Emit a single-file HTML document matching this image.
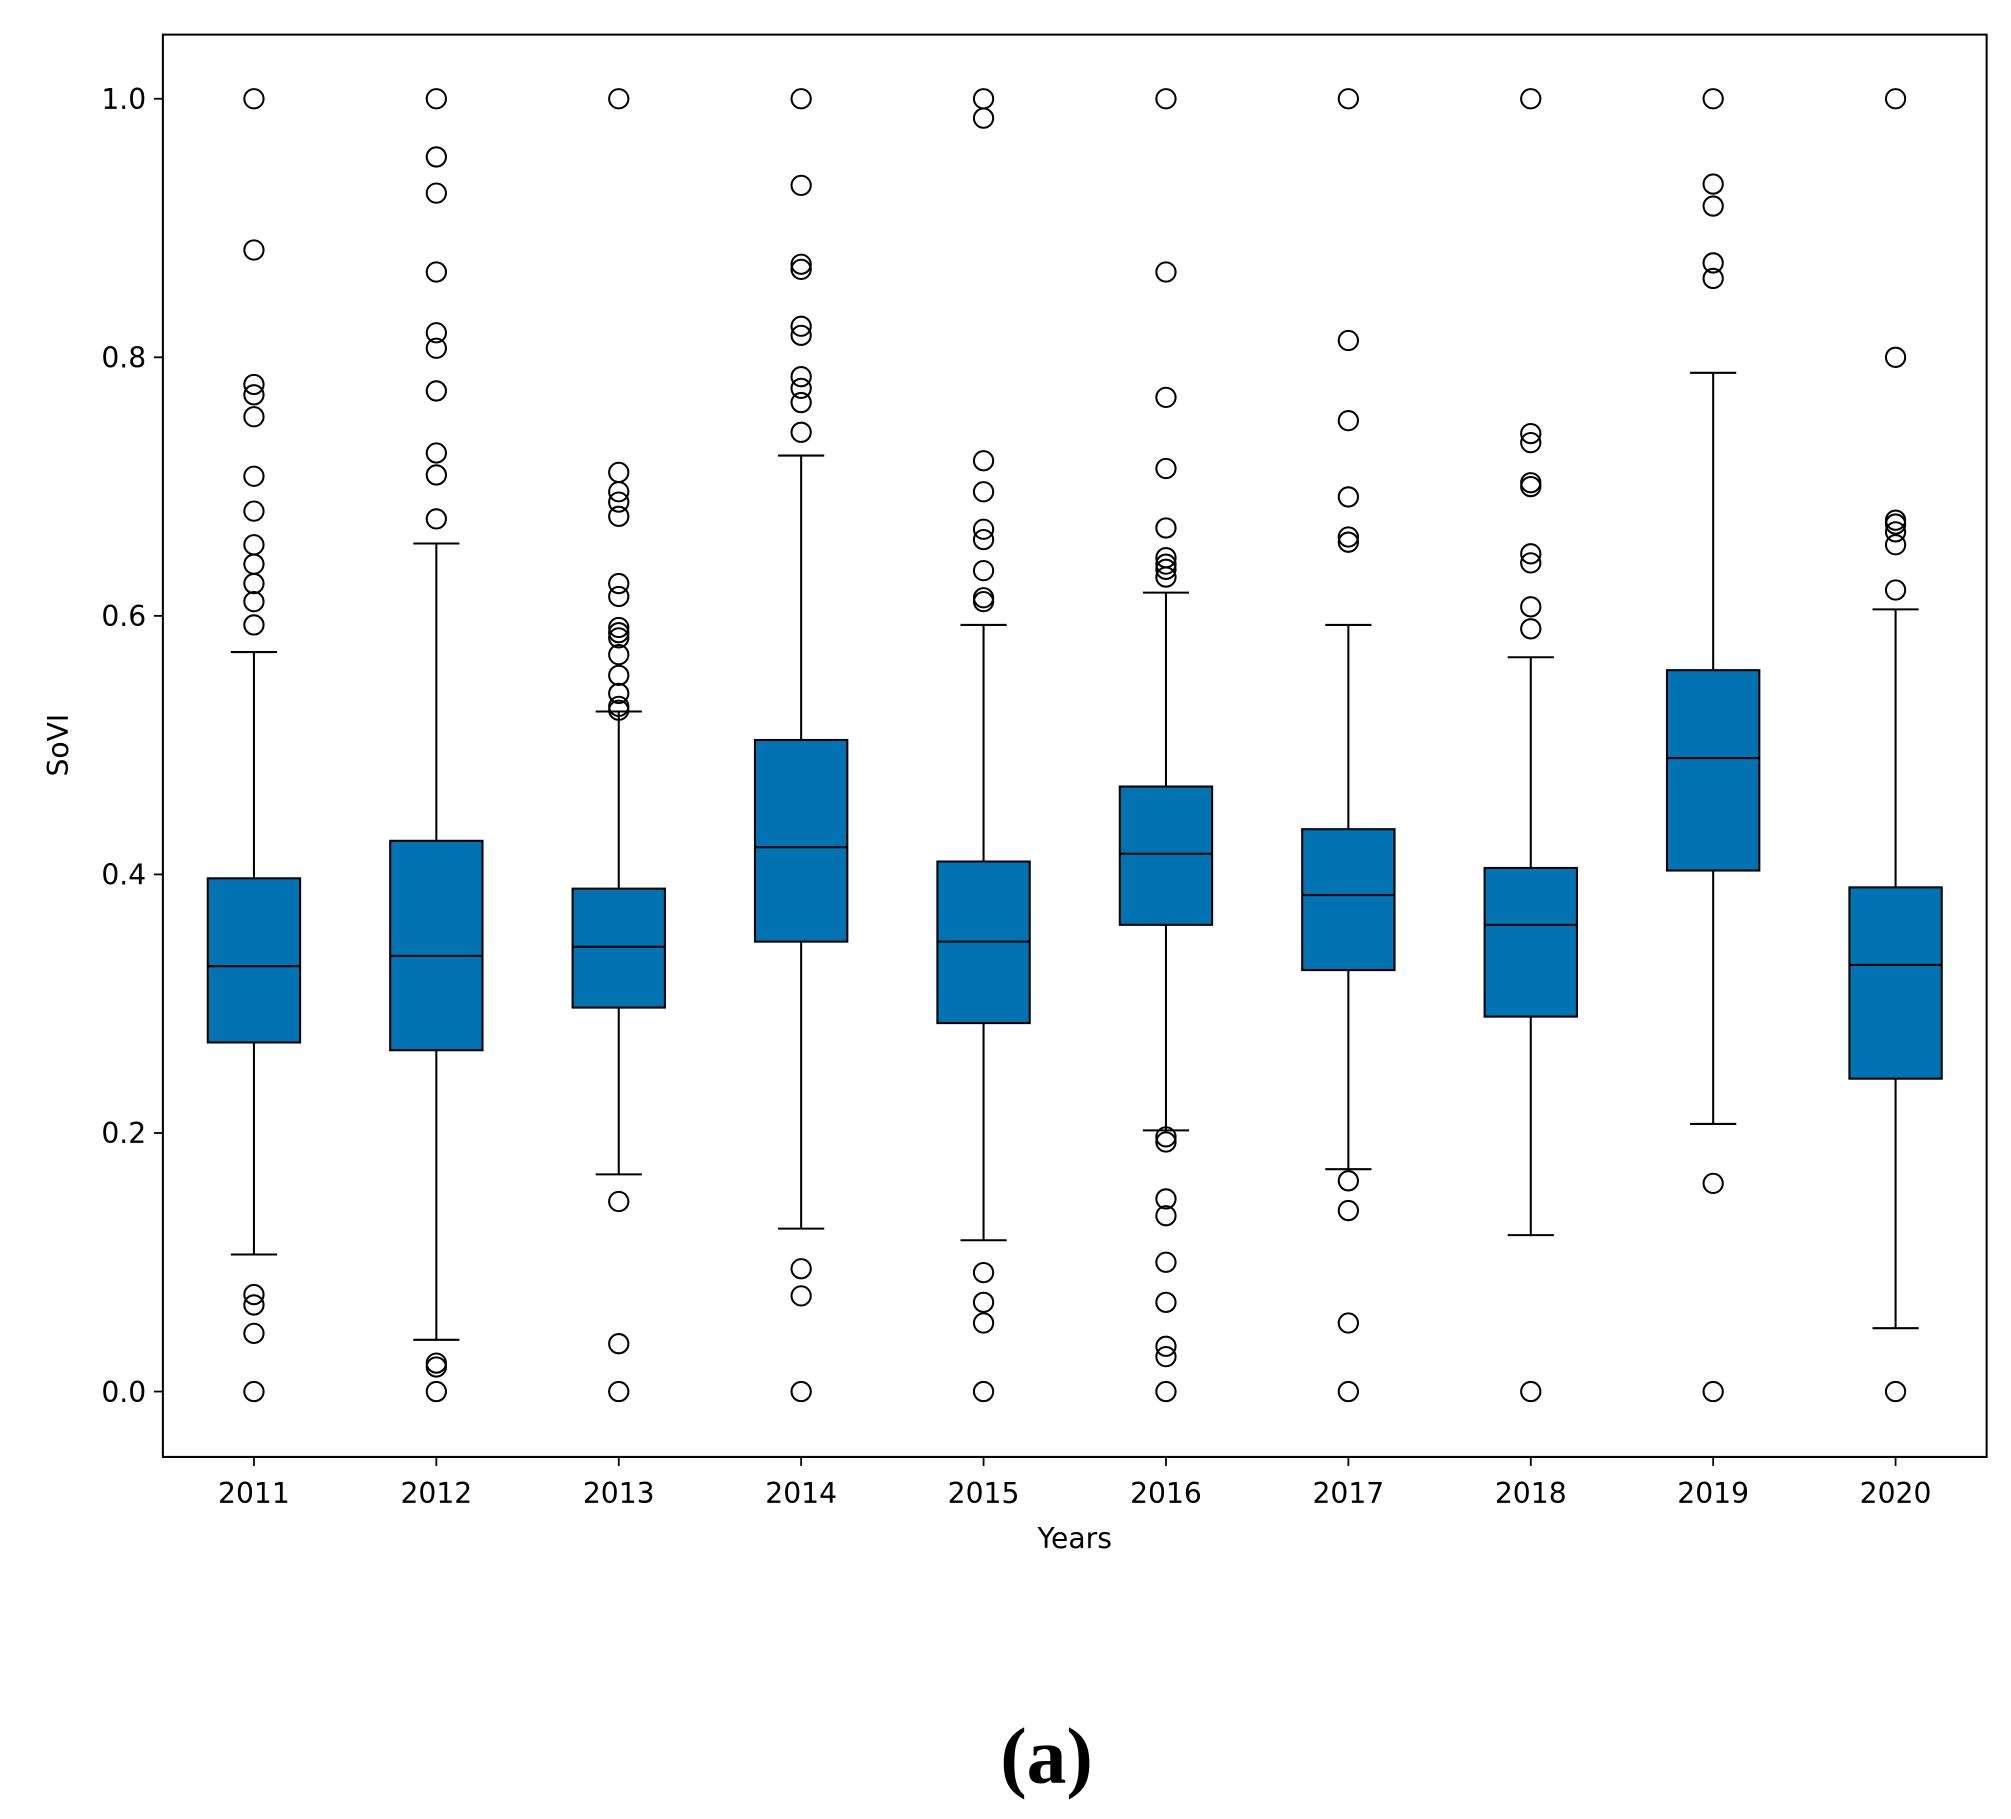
<!DOCTYPE html>
<html><head><meta charset="utf-8"><style>
html,body{margin:0;padding:0;background:#fff;}
svg{display:block;}
text{font-family:"DejaVu Sans","Liberation Sans",sans-serif;fill:#000;}
</style></head><body>
<svg id="chart" width="2011" height="1819" viewBox="0 0 1568 1418.3" preserveAspectRatio="none" xmlns="http://www.w3.org/2000/svg">
<rect x="0" y="0" width="1568" height="1418.3" fill="#fff"/>
<g id="marks"></g>
<rect x="127" y="27" width="1422" height="1109" fill="none" stroke="#000" stroke-width="1.6"/>
<g id="axes"></g>
<text x="838" y="1207" font-size="22" text-anchor="middle">Years</text>
<text x="0" y="0" font-size="22" text-anchor="middle" transform="translate(53,581) rotate(-90)">SoVI</text>
<text x="816" y="1390" font-size="62" font-weight="bold" text-anchor="middle" style="font-family:'Liberation Serif',serif">(a)</text>
</svg>
<script>
const years = ["2011","2012","2013","2014","2015","2016","2017","2018","2019","2020"];
const q1 = [0.270,0.264,0.297,0.348,0.285,0.361,0.326,0.290,0.403,0.242];
const q3 = [0.397,0.426,0.389,0.504,0.410,0.468,0.435,0.405,0.558,0.390];
const medians = [0.329,0.337,0.344,0.421,0.348,0.416,0.384,0.361,0.490,0.330];
const whiskerLow = [0.106,0.040,0.168,0.126,0.117,0.202,0.172,0.121,0.207,0.049];
const whiskerHigh = [0.572,0.656,0.526,0.724,0.593,0.618,0.593,0.568,0.788,0.605];
const outliers = [
 [1.0,0.883,0.779,0.771,0.754,0.708,0.681,0.655,0.640,0.625,0.611,0.593,0.075,0.067,0.045,0.0],
 [1.0,0.955,0.927,0.866,0.819,0.807,0.774,0.726,0.709,0.675,0.022,0.019,0.0],
 [1.0,0.711,0.696,0.688,0.677,0.625,0.615,0.591,0.587,0.583,0.570,0.554,0.540,0.530,0.527,0.147,0.037,0.0],
 [1.0,0.933,0.872,0.868,0.824,0.817,0.785,0.776,0.765,0.742,0.095,0.074,0.0],
 [1.0,0.985,0.720,0.696,0.667,0.659,0.635,0.614,0.611,0.092,0.069,0.053,0.0],
 [1.0,0.866,0.769,0.714,0.668,0.645,0.640,0.636,0.630,0.197,0.193,0.149,0.136,0.100,0.069,0.035,0.027,0.0],
 [1.0,0.813,0.751,0.692,0.661,0.657,0.163,0.140,0.053,0.0],
 [1.0,0.741,0.734,0.703,0.700,0.648,0.641,0.607,0.590,0.0],
 [1.0,0.934,0.917,0.873,0.861,0.161,0.0],
 [1.0,0.800,0.674,0.671,0.665,0.655,0.620,0.0]
];
const yTicks = [0.0,0.2,0.4,0.6,0.8,1.0];
const yTickLabels = ["0.0","0.2","0.4","0.6","0.8","1.0"];

const NS="http://www.w3.org/2000/svg";
function yScale(v){return 1085 - v*1008;}
function xScale(i){return 198 + i*(1478-198)/(years.length-1);}
function mk(tag,attrs,parent){const e=document.createElementNS(NS,tag);for(const k in attrs)e.setAttribute(k,attrs[k]);parent.appendChild(e);return e;}
const marks=document.getElementById('marks'), axes=document.getElementById('axes');
years.forEach((yr,i)=>{
  const cx=xScale(i), hw=36, cw=18;
  const g=mk('g',{},marks);
  
  
  const s={stroke:'#000','stroke-width':1.6,fill:'none'};
  const wl=mk('line',Object.assign({x1:cx,x2:cx,y1:yScale(q1[i]),y2:yScale(whiskerLow[i])},s),g);
  
  
  const wh=mk('line',Object.assign({x1:cx,x2:cx,y1:yScale(q3[i]),y2:yScale(whiskerHigh[i])},s),g);
  
  
  const c1=mk('line',Object.assign({x1:cx-cw,x2:cx+cw,y1:yScale(whiskerLow[i]),y2:yScale(whiskerLow[i])},s),g);
  
  
  const c2=mk('line',Object.assign({x1:cx-cw,x2:cx+cw,y1:yScale(whiskerHigh[i]),y2:yScale(whiskerHigh[i])},s),g);
  
  
  const r=mk('rect',{x:cx-hw,y:yScale(q3[i]),width:2*hw,height:yScale(q1[i])-yScale(q3[i]),fill:'#0173b2',stroke:'#000','stroke-width':1.6},g);
  
  
  const m=mk('line',Object.assign({x1:cx-hw,x2:cx+hw,y1:yScale(medians[i]),y2:yScale(medians[i])},s),g);
  
  
  outliers[i].forEach(v=>{
    const o=mk('circle',{cx:cx,cy:yScale(v),r:7.5,fill:'none',stroke:'#000','stroke-width':1.6},g);
    
    
  });
  const t=mk('line',{x1:cx,x2:cx,y1:1136,y2:1143,stroke:'#000','stroke-width':1.4},axes);
  
  
  const l=mk('text',{x:cx,y:1172,'font-size':22,'text-anchor':'middle'},axes);
  l.textContent=yr;
  
  
});
yTicks.forEach((v,i)=>{
  const y=yScale(v);
  const t=mk('line',{x1:120,x2:127,y1:y,y2:y,stroke:'#000','stroke-width':1.4},axes);
  
  
  const l=mk('text',{x:114,y:y+8,'font-size':22,'text-anchor':'end'},axes);
  l.textContent=yTickLabels[i];
  
  
});
</script>
</body></html>
